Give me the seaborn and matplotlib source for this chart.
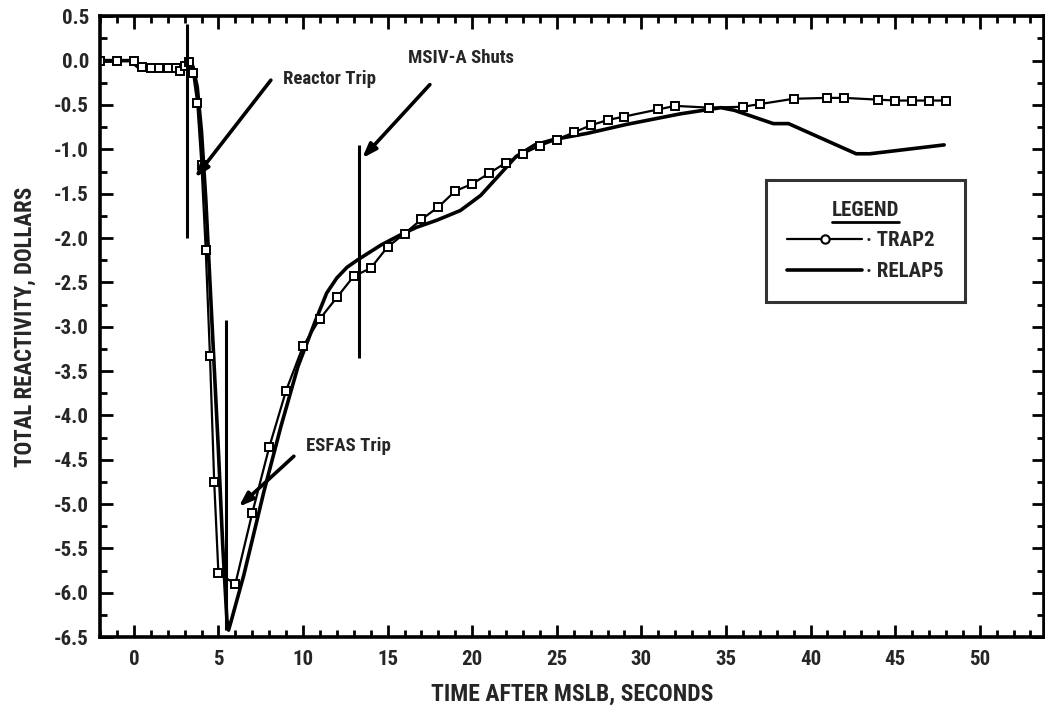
import matplotlib
matplotlib.use('Agg')
import matplotlib.pyplot as plt
import seaborn as sns
import pandas as pd
from matplotlib.ticker import MultipleLocator, FormatStrFormatter
from matplotlib.lines import Line2D
from matplotlib import font_manager as fm

# ---- data ----
trap2_t = [-2, -1, 0, 0.5, 1, 1.5, 2, 2.5, 2.75, 3.0, 3.25, 3.5, 3.75, 4.0, 4.25, 4.5, 4.75, 5.0,
           6, 7, 8, 9, 10, 11, 12, 13, 14, 15, 16, 17, 18, 19, 20, 21, 22, 23, 24, 25, 26, 27, 28, 29,
           31, 32, 34, 36, 37, 39, 41, 42, 44, 45, 46, 47, 48]
trap2_v = [0.0, 0.0, 0.0, -0.07, -0.08, -0.08, -0.08, -0.08, -0.12, -0.06, -0.01, -0.14, -0.48, -1.18, -2.13, -3.33, -4.75, -5.78,
           -5.90, -5.10, -4.36, -3.72, -3.22, -2.91, -2.67, -2.43, -2.34, -2.10, -1.95, -1.79, -1.65, -1.47, -1.39, -1.27, -1.15, -1.05, -0.96, -0.89, -0.81, -0.73, -0.67, -0.63,
           -0.55, -0.51, -0.53, -0.52, -0.49, -0.43, -0.42, -0.42, -0.44, -0.45, -0.45, -0.45, -0.45]

relap5_t = [-2, -0.2, 0.3, 2.8, 3.1, 3.3, 3.5, 3.75, 4.0, 4.25, 4.5, 4.75, 5.0, 5.25, 5.5, 5.6, 5.75,
            6.5, 7.7, 8.7, 9.7, 10.7, 11.4, 12.0, 12.6, 13.2, 14.6, 15.7, 16.7, 17.9, 19.3, 20.5,
            21.6, 22.6, 23.7, 24.8, 26.8, 29.1, 32.3, 34.7, 35.5, 37.8, 38.7, 42.7, 43.5, 47.9]
relap5_v = [0.0, 0.0, -0.08, -0.07, -0.02, 0.0, -0.07, -0.30, -0.80, -1.55, -2.50, -3.45, -4.40, -5.45, -6.30, -6.42, -6.32,
            -5.80, -4.85, -4.12, -3.45, -2.95, -2.62, -2.45, -2.33, -2.25, -2.08, -1.97, -1.88, -1.80, -1.69, -1.52,
            -1.29, -1.08, -0.95, -0.89, -0.82, -0.72, -0.60, -0.53, -0.56, -0.71, -0.71, -1.05, -1.05, -0.95]

series_names = ['TRAP2', 'RELAP5']
x_label = 'TIME AFTER MSLB, SECONDS'
y_label = 'TOTAL REACTIVITY, DOLLARS'
legend_title = 'LEGEND'

events = ['Reactor Trip', 'MSIV-A Shuts', 'ESFAS Trip']
event_times = [3.13, 13.3, 5.44]
event_line_ymin = [-2.0, -3.35, -6.42]
event_line_ymax = [0.41, -0.95, -2.92]
event_text_xy = [(8.8, -0.21), (16.2, 0.03), (10.2, -4.35)]
event_arrow_tail = [(8.1, -0.22), (17.5, -0.27), (9.46, -4.46)]
event_arrow_head = [(3.62, -1.32), (13.5, -1.1), (6.2, -5.03)]

# ---- style ----
sns.set_theme(style='white')
names = {f.name for f in fm.fontManager.ttflist}
cands = ['Liberation Sans Narrow', 'DejaVu Sans Condensed', 'Roboto Condensed', 'Liberation Sans', 'DejaVu Sans']
fam = [c for c in cands if c in names][0]
plt.rcParams['font.family'] = [fam, 'DejaVu Sans']
plt.rcParams['font.weight'] = 'bold'
plt.rcParams['axes.unicode_minus'] = False

fig = plt.figure(figsize=(10.45, 7.08), dpi=100)
ax = fig.add_axes([0.0957, 0.100, 0.9033, 0.877])

df_t = pd.DataFrame({'t': trap2_t, 'v': trap2_v})
df_r = pd.DataFrame({'t': relap5_t, 'v': relap5_v})

sns.lineplot(data=df_r, x='t', y='v', ax=ax, color='black', lw=2.6, sort=False, estimator=None)
sns.lineplot(data=df_t, x='t', y='v', ax=ax, color='black', lw=1.6, marker='s', markersize=5.5,
             markerfacecolor='white', markeredgecolor='black', markeredgewidth=1.4, sort=False, estimator=None)

ax.set_xlim(-2, 53.8)
ax.set_ylim(-6.5, 0.5)
ax.xaxis.set_major_locator(MultipleLocator(5))
ax.xaxis.set_minor_locator(MultipleLocator(1))
ax.yaxis.set_major_locator(MultipleLocator(0.5))
ax.yaxis.set_minor_locator(MultipleLocator(0.25))
ax.yaxis.set_major_formatter(FormatStrFormatter('%.1f'))
ax.set_xticks([0, 5, 10, 15, 20, 25, 30, 35, 40, 45, 50])
ax.tick_params(which='both', direction='in', top=True, right=True, bottom=True, left=True,
               width=2, color='black', labelsize=15)
ax.tick_params(which='major', length=9)
ax.tick_params(which='minor', length=5)
ax.tick_params(axis='x', pad=9)
ax.tick_params(axis='y', pad=8)
for lab in ax.get_xticklabels() + ax.get_yticklabels():
    lab.set_fontweight('bold')
for s in ax.spines.values():
    s.set_linewidth(2.6)
    s.set_color('black')

ax.set_xlabel(x_label, fontsize=17, fontweight='bold', labelpad=10)
ax.set_ylabel(y_label, fontsize=16.5, fontweight='bold', labelpad=12)

# event markers
for name, tx, y0, y1, txy, tail, head in zip(events, event_times, event_line_ymin, event_line_ymax,
                                             event_text_xy, event_arrow_tail, event_arrow_head):
    ax.vlines(tx, y0, y1, color='black', lw=2.2)
    ax.text(txy[0], txy[1], name, fontsize=13.5, fontweight='bold', va='center', ha='left')
    ax.annotate('', xy=head, xytext=tail,
                arrowprops=dict(arrowstyle='-|>,head_length=0.7,head_width=0.25', lw=2.6, color='black',
                                shrinkA=0, shrinkB=0))

# legend
handles = [Line2D([], [], color='black', lw=1.6, marker='o', markersize=6, markerfacecolor='white',
                  markeredgewidth=1.5, markevery=[1], ls='-'),
           Line2D([], [], color='black', lw=2.6)]
leg = ax.legend(handles, ['· ' + n for n in series_names], title=legend_title, loc='upper left',
                bbox_to_anchor=(0.706, 0.736), frameon=True, fancybox=False, edgecolor='black',
                fontsize=15, title_fontsize=15, handlelength=3.6, handletextpad=0.2,
                borderpad=1.0, labelspacing=0.55, borderaxespad=0)
leg.get_frame().set_linewidth(2.2)
leg.get_title().set_fontweight('bold')
for t in leg.get_texts():
    t.set_fontweight('bold')

fig.canvas.draw()
bb = leg.get_title().get_window_extent()
fig.add_artist(Line2D([bb.x0, bb.x1], [bb.y0 - 2, bb.y0 - 2], transform=None, color='black', lw=2))

fig.savefig('out.png', dpi=100)
